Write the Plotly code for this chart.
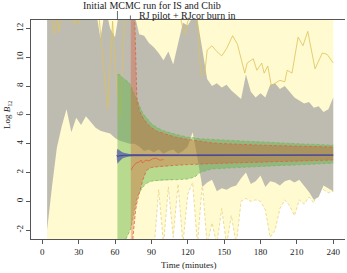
import plotly.graph_objects as go

# ---------------- data ----------------
# common time grid for the IS (yellow) and Chib (grey) bands, minutes
t_grid = [4, 8, 12, 16, 20, 24, 28, 32, 36, 40, 44, 48, 52, 56, 60, 64, 68, 72, 76, 80,
          84, 88, 92, 96, 100, 104, 108, 112, 116, 120, 124, 128, 132, 136, 140, 144, 148, 152, 156, 160,
          164, 168, 172, 176, 180, 184, 188, 192, 196, 200, 204, 208, 212, 216, 220, 224, 228, 232, 236, 240]

is_low = [-4.0, -4.0, -4.0, -4.0, -4.0, -4.0, -4.0, -4.0, -4.0, -4.0, -4.0, -4.0, -4.0, -4.0, -4.0,
          -4.0, -4.0, -4.0, -4.0, -4.0, -4.0, -4.0, -3.5,
          0.8, -3.0, 1.0, -2.5, 1.2, -3.0, 0.5, 1.3, -3.0, 1.2, -3.0, -1.5, -3.0, -0.5, -3.0, -1.0,
          -3.0, 0.0, 0.2, 0.0, 0.1, 0.0, -0.6, -2.5, -2.0, -0.5, 0.1, -0.3, -1.0, 0.1, -0.2, 0.3,
          -0.1, 1.0, 0.8, 0.6, 0.7]
is_high = [13.5, 13.6, 13.4, 13.5, 13.7, 13.5, 13.4, 13.6, 13.5, 13.5, 13.4, 13.6, 13.5, 13.5, 13.4,
           13.6, 13.5, 13.5, 13.4, 13.6, 13.5, 13.5, 13.4, 13.6, 13.5, 13.5, 13.4, 13.6, 13.5, 13.5,
           13.4, 13.6, 13.5, 13.5, 13.4, 13.6, 13.5, 13.5, 13.4, 13.6, 13.5, 13.5, 13.4, 13.6, 13.5,
           13.5, 13.4, 13.6, 13.5, 13.5, 13.4, 13.6, 13.5, 13.5, 13.4, 13.6, 13.5, 13.5, 13.4, 13.6]

chib_low = [-2.0, 1.0, 3.7, 5.2, 6.4, 4.8, 5.8, 5.3, 5.9, 5.5, 5.1, 4.9, 4.8, 4.7, 4.4,
            4.2, 4.1, 4.0, 4.0, 3.8, 3.5, 3.6, 3.4, 3.6, 3.3, 3.5, 3.6, 3.3, 3.5, 3.8,
            4.8, 3.0, 1.0, 1.3, 1.5, 0.7, 0.9, 0.8, 1.0, 1.1, 1.6, 2.0, 1.2, 1.4, 1.8,
            1.0, 1.4, 1.3, 1.1, 1.4, 1.5, 1.3, 1.5, 1.1, 0.65, 0.1, 0.3, 1.1, 0.9, 0.7]
chib_high = [13.5, 13.6, 13.4, 13.5, 13.7, 13.5, 13.4, 13.6, 13.5, 13.5, 13.4,
             11.3, 13.5, 12.0, 11.4, 13.5, 13.5, 13.5, 13.0, 11.6, 11.5,
             11.0, 10.7, 10.3, 9.8, 10.4, 9.5, 11.0, 12.4, 12.2, 12.8,
             12.6, 10.5, 8.5, 8.0, 8.2, 7.9, 8.1, 7.7, 7.4, 7.1,
             8.8, 7.6, 7.2, 7.5, 7.2, 8.1, 8.2, 7.8, 8.0, 7.6,
             7.2, 7.0, 6.8, 6.9, 6.5, 6.6, 6.2, 6.4, 7.2]

# IS solid yellow line
t_is_mid = [4, 8, 10, 12, 14, 16, 24, 26, 28, 30, 32, 36, 46, 49, 52, 54, 56, 58, 60, 62, 64, 66, 68,
            112, 116, 118, 120, 124, 128, 131, 134, 136, 140, 144, 148, 152, 157, 161, 167, 169, 174,
            177, 181, 183, 186, 189, 192, 196, 200, 202, 206, 211, 215, 219, 225, 231, 235, 240]
is_mid = [13.5, 12.5, 11.6, 12.8, 11.8, 13.5, 13.0, 12.3, 12.6, 12.3, 12.7, 13.5, 13.5, 11.0, 8.0, 6.4,
          9.5, 12.5, 9.5, 7.5, 5.8, 9.0, 13.0,
          13.5, 12.0, 11.6, 12.5, 13.0, 12.5, 8.7, 8.9, 10.5, 10.8, 10.4, 10.1, 10.6, 11.5, 10.9, 8.9,
          9.6, 9.9, 9.1, 9.6, 8.9, 9.4, 8.0, 8.2, 8.4, 8.3, 9.1, 8.9, 11.4, 10.8, 11.8, 9.2, 10.3,
          10.2, 9.6]

# RJ (green) band
t_rj = [62, 64, 66, 68, 70, 72, 73, 74, 75, 76, 78, 80, 83, 86, 90, 95, 100, 110, 120, 126, 130,
        140, 150, 160, 170, 180, 190, 200, 210, 220, 230, 240]
rj_high = [8.8, 8.8, 8.6, 8.5, 8.35, 8.2, 8.0, 7.9, 7.7, 7.5, 7.1, 6.6, 6.1, 5.8, 5.4, 5.1, 4.9,
           4.65, 4.45, 4.4, 4.35, 4.3, 4.25, 4.2, 4.15, 4.12, 4.08, 4.05, 4.0, 3.97, 3.93, 3.9]
rj_low = [-4.0, -4.0, -4.0, -2.8, -2.4, -2.1, -1.9, -1.5, -1.0, -0.5, 0.2, 0.6, 1.0, 1.25, 1.4, 1.45,
          1.5, 1.5, 1.55, 1.7, 2.0, 2.25, 2.3, 2.35, 2.4, 2.42, 2.45, 2.5, 2.52, 2.55, 2.6, 2.65]

# RJcor (red) band
t_rjc = [73, 74, 75, 76, 77, 78, 80, 83, 86, 90, 95, 100, 110, 120, 130, 140, 150, 160, 170, 180,
         190, 200, 210, 220, 230, 240]
rjc_high = [14.0, 14.0, 14.0, 13.5, 11.0, 7.2, 6.3, 5.8, 5.45, 5.1, 4.85, 4.7, 4.45, 4.3, 4.15, 4.05,
            4.0, 3.95, 3.92, 3.9, 3.87, 3.85, 3.83, 3.8, 3.78, 3.77]
rjc_low = [-4.0, -3.5, -2.3, -1.3, -0.6, -0.1, 0.6, 1.5, 2.15, 2.35, 2.4, 2.45, 2.5, 2.55, 2.6, 2.62,
           2.65, 2.67, 2.7, 2.72, 2.74, 2.76, 2.78, 2.8, 2.83, 2.87]
t_rjc_mid = [73.3, 74.6, 77.4, 80.1, 81.5, 82.6, 85.6, 88, 91, 93.8, 97, 100]
rjc_mid = [2.17, 2.38, 2.66, 2.73, 2.87, 2.66, 2.87, 2.8, 2.95, 3.0, 2.85, 2.9]

# blue band (narrow, around the true value)
t_blue = [61.5, 62, 63, 64, 65, 66, 68, 70, 72, 75, 80, 90, 100, 120, 150, 180, 210, 240]
blue_high = [3.5, 3.65, 3.58, 3.5, 3.45, 3.4, 3.35, 3.31, 3.29, 3.28, 3.27, 3.26, 3.26, 3.25, 3.25,
             3.25, 3.25, 3.25]
blue_low = [2.9, 2.6, 2.72, 2.82, 2.9, 2.97, 3.05, 3.09, 3.11, 3.13, 3.14, 3.15, 3.16, 3.16, 3.17,
            3.17, 3.17, 3.17]
blue_mid = [3.2, 3.1, 3.15, 3.17, 3.19, 3.2, 3.2, 3.2, 3.2, 3.21, 3.21, 3.21, 3.21, 3.21, 3.21,
            3.21, 3.21, 3.21]

x_ticks = [0, 30, 60, 90, 120, 150, 180, 210, 240]
y_ticks = [-2, 0, 2, 4, 6, 8, 10, 12]
phase_marks = [62, 72.7]

FONT = "Liberation Serif"

fig = go.Figure()


def band(t, lo, hi, color):
    xs = list(t) + list(t)[::-1]
    ys = list(hi) + list(lo)[::-1]
    fig.add_trace(go.Scatter(x=xs, y=ys, fill="toself", fillcolor=color, mode="lines",
                             line=dict(width=0, color=color), hoverinfo="skip", showlegend=False))


def line(t, v, color, width=0.8, dash="solid"):
    fig.add_trace(go.Scatter(x=t, y=v, mode="lines", line=dict(color=color, width=width, dash=dash),
                             hoverinfo="skip", showlegend=False))


band(t_grid, is_low, is_high, "#FFFACF")
line(t_grid, is_low, "#E9D47C", 0.8, "3px,2px")
band(t_grid, chib_low, chib_high, "#BEBCB0")
line(t_is_mid, is_mid, "#DDC25A", 0.8)

band(t_rj, rj_low, rj_high, "rgba(95,180,65,0.45)")
line(t_rj, rj_low, "#6DBA5A", 0.7, "3px,2px")
line(t_rj, rj_high, "#6DBA5A", 0.7, "3px,2px")

band(t_rjc, rjc_low, rjc_high, "rgba(220,75,40,0.32)")
line(t_rjc, rjc_low, "#E0603F", 0.8, "3px,2px")
line(t_rjc, rjc_high, "#E0603F", 0.8, "3px,2px")
line(t_rjc_mid, rjc_mid, "#E0603F", 0.8)

band(t_blue, blue_low, blue_high, "rgba(60,60,170,0.6)")
line(t_blue, blue_mid, "#40409F", 1.0)

H = 219.0
fig.update_layout(
    width=347, height=273,
    margin=dict(l=31, r=1.5, t=20, b=34),
    paper_bgcolor="white", plot_bgcolor="white",
    font=dict(family=FONT, size=9, color="#222"),
    xaxis=dict(range=[-9.3, 249.7], tickvals=x_ticks, ticktext=[str(v) for v in x_ticks],
               showgrid=False, zeroline=False, showline=True, mirror=True, linecolor="#555",
               linewidth=0.8, ticks="outside", ticklen=4, tickwidth=0.8, tickcolor="#555",
               tickfont=dict(family=FONT, size=9)),
    yaxis=dict(range=[-2.618, 12.59], tickvals=y_ticks, ticktext=[str(v) for v in y_ticks],
               showgrid=False, zeroline=False, showline=True, linecolor="#555", linewidth=0.8,
               ticks="outside", ticklen=4, tickwidth=0.8, tickcolor="#555", tickangle=-90,
               tickfont=dict(family=FONT, size=9)),
    annotations=[
        dict(text="Initial MCMC run for IS and Chib", x=90.3, xref="x", y=(239 - 6) / H, yref="paper",
             showarrow=False, xanchor="center", yanchor="middle", font=dict(family=FONT, size=10)),
        dict(text="RJ pilot + RJcor burn in", x=78.0, xref="x", y=(239 - 15) / H, yref="paper",
             showarrow=False, xanchor="left", yanchor="middle", font=dict(family=FONT, size=10)),
        dict(text="Time (minutes)", x=0.5, xref="paper", y=(239 - 265) / H, yref="paper",
             showarrow=False, xanchor="center", yanchor="middle", font=dict(family=FONT, size=9)),
        dict(text="Log <i>B</i><sub>12</sub>", x=(7 - 31) / 314.5, xref="paper", y=(239 - 115) / H,
             yref="paper", showarrow=False, textangle=-90, xanchor="center", yanchor="middle",
             font=dict(family=FONT, size=9)),
    ],
    shapes=[
        dict(type="line", xref="x", yref="paper", x0=phase_marks[0], x1=phase_marks[0], y0=1.0,
             y1=(239 - 11) / H, line=dict(color="#444", width=0.8)),
        dict(type="line", xref="x", yref="paper", x0=phase_marks[1], x1=phase_marks[1], y0=1.0,
             y1=(239 - 15.5) / H, line=dict(color="#444", width=0.8)),
    ],
)

fig.write_html("out.html")
